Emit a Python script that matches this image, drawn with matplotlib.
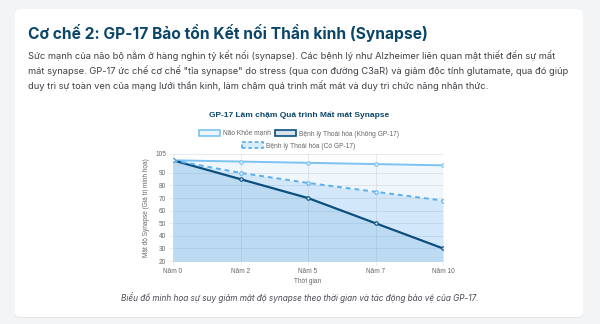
import matplotlib.pyplot as plt
from matplotlib.patches import FancyBboxPatch, Patch

plt.rcParams['font.family'] = ['Inter', 'DejaVu Sans']

# data
years = ["Năm 0", "Năm 2", "Năm 5", "Năm 7", "Năm 10"]
healthy = [100, 99, 98, 97, 96]
no_gp17 = [100, 85, 70, 50, 30]
with_gp17 = [100, 90, 82, 75, 68]
y_ticks = [20, 30, 40, 50, 60, 70, 80, 90, 105]

light = "#7cc2f2"
navy = "#0b4f80"
mid = "#5eaff0"
chart_font = ["Liberation Sans", "DejaVu Sans"]

W, H = 600, 324
fig = plt.figure(figsize=(6, 3.24), dpi=100)
fig.patch.set_facecolor("#f3f4f6")
renderer = fig.canvas.get_renderer()


def fit(txt, width_px):
    # shrink/grow a text so it spans the given pixel width
    w = txt.get_window_extent(renderer).width
    txt.set_fontsize(txt.get_fontsize() * width_px / w)
    return txt.get_fontsize()


def px_size(text, width_px, **kw):
    # font size that gives the text this pixel width
    t = fig.text(0, 0, text, fontsize=10, **kw)
    fs = fit(t, width_px)
    t.remove()
    return fs


# white card with a soft shadow
shadow = FancyBboxPatch((15 / W, 6 / H), 568 / W, 309 / H,
                        boxstyle="round,pad=0,rounding_size=0.012",
                        transform=fig.transFigure, facecolor="#e2e4e8",
                        edgecolor="none", zorder=-2)
card = FancyBboxPatch((15 / W, 7 / H), 568 / W, 308 / H,
                      boxstyle="round,pad=0,rounding_size=0.012",
                      transform=fig.transFigure, facecolor="white",
                      edgecolor="none", zorder=-1)
fig.patches.extend([shadow, card])

title = fig.text(28 / W, 1 - 33 / H, "Cơ chế 2: GP-17 Bảo tồn Kết nối Thần kinh (Synapse)",
                 fontsize=10, fontweight="bold", color="#0b4668", va="center")
fit(title, 399)

para = ["Sức mạnh của não bộ nằm ở hàng nghìn tỷ kết nối (synapse). Các bệnh lý như Alzheimer liên quan mật thiết đến sự mất",
        "mát synapse. GP-17 ức chế cơ chế \"tỉa synapse\" do stress (qua con đường C3aR) và giảm độc tính glutamate, qua đó giúp",
        "duy trì sự toàn vẹn của mạng lưới thần kinh, làm chậm quá trình mất mát và duy trì chức năng nhận thức."]
para_fs = px_size(para[0], 528)
for i, line in enumerate(para):
    fig.text(28 / W, 1 - (56 + 15 * i) / H, line, fontsize=para_fs,
             color="#3f3f46", va="center")

ax = fig.add_axes([173 / W, 1 - 261 / H, 270 / W, 107 / H])
x = list(range(len(years)))

# shaded bands between the curves
ax.fill_between(x, healthy, with_gp17, color=light, alpha=0.12, lw=0)
ax.fill_between(x, with_gp17, no_gp17, color=mid, alpha=0.28, lw=0)
ax.fill_between(x, no_gp17, 0, color="#3c96dc", alpha=0.34, lw=0)

ax.plot(x, healthy, color=light, lw=1.4, marker="o", ms=2.5,
        mfc="#e8f4fd", mec=light, mew=0.8)
ax.plot(x, no_gp17, color=navy, lw=1.6, marker="o", ms=2.5,
        mfc="#c9def0", mec=navy, mew=0.8)
ax.plot(x, with_gp17, color=mid, lw=1.4, ls=(0, (2.5, 2)), marker="o", ms=2.5,
        mfc="white", mec=mid, mew=0.8)

tick_fs = px_size("Năm 10", 23, family=chart_font)
ax.set_xlim(0, 4)
ax.set_ylim(20, 105)
ax.set_xticks(x)
ax.set_xticklabels(years, family=chart_font)
ax.set_yticks(y_ticks)
ax.set_yticklabels([str(v) for v in y_ticks], family=chart_font)
ax.grid(True, color="#e5e5e5", lw=0.6)
ax.set_axisbelow(True)
for s in ax.spines.values():
    s.set_visible(False)
ax.tick_params(labelsize=tick_fs, colors="#666666", length=3, width=0.5, pad=2)
ax.tick_params(axis="both", color="#e5e5e5")
ax.set_xlabel("Thời gian", fontsize=tick_fs, color="#666666", labelpad=2.5, family=chart_font)
ax.set_ylabel("Mật độ Synapse (Giá trị minh họa)", fontsize=tick_fs, color="#666666",
              labelpad=3.5, family=chart_font)

ct = fig.text(299 / W, 1 - 115 / H, "GP-17 Làm chậm Quá trình Mất mát Synapse",
              ha="center", va="center", fontsize=10, fontweight="bold", color="#0b4668",
              family=chart_font)
fit(ct, 178)

# legend in two rows
leg_fs = px_size("Bệnh lý Thoái hóa (Không GP-17)", 100, family=chart_font)
em = leg_fs * 100 / 72
h1 = [Patch(facecolor="#eaf5fd", edgecolor=light, lw=1.2, label="Não Khỏe mạnh"),
      Patch(facecolor="#d6e2ec", edgecolor=navy, lw=1.2, label="Bệnh lý Thoái hóa (Không GP-17)")]
h2 = [Patch(facecolor="#d9eefc", edgecolor=mid, lw=1.3, ls=(0, (2, 1.5)),
            label="Bệnh lý Thoái hóa (Có GP-17)")]
leg_kw = dict(loc="center", frameon=False, handlelength=21 / em,
              handleheight=6 / em, handletextpad=3 / em, labelcolor="#666666",
              borderpad=0, borderaxespad=0,
              prop={"family": chart_font, "size": leg_fs})
fig.legend(handles=h1, bbox_to_anchor=(299 / W, 1 - 134 / H), ncol=2,
           columnspacing=5 / em, **leg_kw)
fig.legend(handles=h2, bbox_to_anchor=(299 / W, 1 - 146 / H), **leg_kw)

cap = fig.text(300 / W, 1 - 298 / H,
               "Biểu đồ minh họa sự suy giảm mật độ synapse theo thời gian và tác động bảo vệ của GP-17.",
               ha="center", va="center", fontsize=10, style="italic", color="#4b4b55")
fit(cap, 359)

fig.savefig("out.png", dpi=100, facecolor=fig.get_facecolor())
